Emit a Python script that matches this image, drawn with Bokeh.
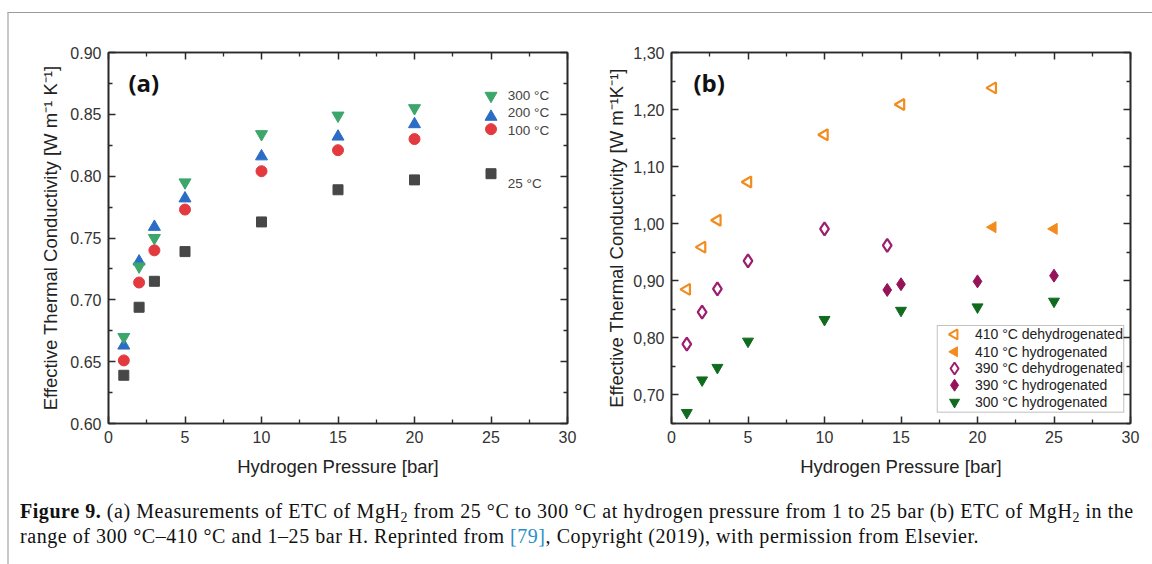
from bokeh.plotting import figure
from bokeh.models import (FixedTicker, LinearAxis, Div, Label, BoxAnnotation,
                          CustomJSTickFormatter)
from bokeh.layouts import row, column
from bokeh.core.properties import value
from bokeh.embed import file_html
from bokeh.resources import INLINE
import math

# ---------------- data: panel (a) ----------------
pressure_a = [1, 2, 3, 5, 10, 15, 20, 25]
etc_300C = [0.670, 0.727, 0.750, 0.795, 0.834, 0.849, 0.855, 0.865]
etc_200C = [0.663, 0.731, 0.759, 0.782, 0.816, 0.832, 0.842, 0.848]
etc_100C = [0.651, 0.714, 0.740, 0.773, 0.804, 0.821, 0.830, 0.838]
etc_25C = [0.639, 0.694, 0.715, 0.739, 0.763, 0.789, 0.797, 0.802]
series_labels_a = ["300 °C", "200 °C", "100 °C", "25 °C"]
series_label_x_a = [26.1, 26.1, 26.1, 26.1]
series_label_y_a = [0.865, 0.8515, 0.837, 0.794]

# ---------------- data: panel (b) ----------------
p410_dehyd = [1, 2, 3, 5, 10, 15, 21]
etc410_dehyd = [0.885, 0.959, 1.006, 1.073, 1.156, 1.209, 1.238]
p410_hyd = [21, 25]
etc410_hyd = [0.994, 0.991]
p390_dehyd = [1, 2, 3, 5, 10, 14.1]
etc390_dehyd = [0.789, 0.845, 0.886, 0.935, 0.991, 0.962]
p390_hyd = [14.1, 15, 20, 25]
etc390_hyd = [0.884, 0.894, 0.899, 0.909]
p300_hyd = [1, 2, 3, 5, 10, 15, 20, 25]
etc300_hyd = [0.669, 0.726, 0.748, 0.794, 0.832, 0.848, 0.854, 0.864]
legend_labels_b = ["410 °C dehydrogenated", "410 °C hydrogenated",
                   "390 °C dehydrogenated", "390 °C hydrogenated",
                   "300 °C hydrogenated"]
# legend placement (data units of panel b)
legend_box_b = dict(left=17.37, right=29.56, top=0.8217, bottom=0.6698)
legend_marker_x_b = 18.5
legend_text_x_b = 19.83
legend_row_y_b = [0.806, 0.7757, 0.7464, 0.7171, 0.6874]

# ticks
x_major = [0, 5, 10, 15, 20, 25, 30]
x_minor = [2.5, 7.5, 12.5, 17.5, 22.5, 27.5]
ya_major = [0.60, 0.65, 0.70, 0.75, 0.80, 0.85, 0.90]
ya_minor = [0.625, 0.675, 0.725, 0.775, 0.825, 0.875]
yb_major = [0.70, 0.80, 0.90, 1.00, 1.10, 1.20, 1.30]
yb_minor = [0.65, 0.75, 0.85, 0.95, 1.05, 1.15, 1.25]

FONT = "Liberation Sans"
AX = "#2a2a2a"


def style_axis(ax, ticker, fmt=None, hide=False):
    ax.ticker = ticker
    ax.major_tick_in = 7
    ax.major_tick_out = 0
    ax.minor_tick_in = 4
    ax.minor_tick_out = 0
    ax.axis_line_color = AX
    ax.axis_line_width = 1.6
    ax.major_tick_line_color = AX
    ax.major_tick_line_width = 1.5
    ax.minor_tick_line_color = AX
    ax.minor_tick_line_width = 1.3
    ax.major_label_text_font = FONT
    ax.major_label_text_font_size = "16px"
    ax.major_label_text_color = "#333333"
    ax.major_label_standoff = 7
    ax.axis_label_text_font = FONT
    ax.axis_label_text_font_size = "18.5px"
    ax.axis_label_text_font_style = "normal"
    ax.axis_label_text_color = "#222222"
    if hide:
        ax.formatter = CustomJSTickFormatter(code="return ''")
    elif fmt is not None:
        ax.formatter = fmt


def make_fig(yr, yticks, yminor, ylabel, border_left, border_right, yfmt, ylab_standoff):
    p = figure(x_range=(0, 30), y_range=yr, frame_width=459, frame_height=371,
               min_border_left=border_left, min_border_right=border_right,
               min_border_top=39, min_border_bottom=60,
               output_backend="svg", toolbar_location=None)
    p.xgrid.visible = False
    p.ygrid.visible = False
    p.outline_line_color = AX
    p.outline_line_width = 1.6
    p.background_fill_color = "white"
    p.border_fill_color = "white"
    xt = FixedTicker(ticks=x_major, minor_ticks=x_minor)
    yt = FixedTicker(ticks=yticks, minor_ticks=yminor)
    style_axis(p.xaxis[0], xt)
    style_axis(p.yaxis[0], yt, fmt=yfmt)
    p.xaxis[0].axis_label = "Hydrogen Pressure [bar]"
    p.xaxis[0].axis_label_standoff = 10
    p.yaxis[0].axis_label = ylabel
    p.yaxis[0].axis_label_standoff = ylab_standoff
    top = LinearAxis()
    right = LinearAxis()
    style_axis(top, FixedTicker(ticks=x_major, minor_ticks=x_minor), hide=True)
    style_axis(right, FixedTicker(ticks=yticks, minor_ticks=yminor), hide=True)
    top.major_label_standoff = 0
    right.major_label_standoff = 0
    p.add_layout(top, "above")
    p.add_layout(right, "right")
    return p


# ---------------- panel (a) ----------------
dot2 = CustomJSTickFormatter(code="return tick.toFixed(2)")
fa = make_fig((0.60, 0.90), ya_major, ya_minor,
              "Effective Thermal Conductivity [W m⁻¹ K⁻¹]", 99, 33, dot2, 6)
fa.scatter(pressure_a, etc_25C, marker="square", size=10, color="#474747")
fa.scatter(pressure_a, etc_100C, marker="circle", size=11, color="#e23a3f")
fa.scatter(pressure_a, etc_200C, marker="triangle", size=12, color="#2b6cc6")
fa.scatter(pressure_a, etc_300C, marker="inverted_triangle", size=12, color="#3da66a")
fa.text(x=series_label_x_a, y=series_label_y_a, text=series_labels_a,
        text_font=value(FONT), text_font_size="13.5px", text_color="#444444",
        text_baseline="middle", text_align="left")
fa.add_layout(Label(x=1.3, y=0.876, text="(a)", text_font="Open Sans",
                    text_font_style="bold", text_font_size="24px",
                    text_baseline="middle", text_color="#111111"))

# ---------------- panel (b) ----------------
comma = CustomJSTickFormatter(code="return tick.toFixed(2).replace('.', ',')")
fb = make_fig((0.65, 1.30), yb_major, yb_minor,
              "Effective Thermal Conductivity [W m⁻¹K⁻¹]", 71, 21, comma, 3)
ORANGE = "#f28c1f"
PURPLE_O = "#9b1f6e"
PURPLE_F = "#961259"
GREEN_D = "#116b1f"
fb.add_layout(BoxAnnotation(left=legend_box_b["left"], right=legend_box_b["right"],
                            top=legend_box_b["top"], bottom=legend_box_b["bottom"],
                            fill_color="white", fill_alpha=1, line_color="#333333",
                            line_width=1, level="underlay"))
fb.scatter(p410_dehyd, etc410_dehyd, marker="triangle", angle=math.pi / 2,
           size=11, line_color=ORANGE, fill_color="white", line_width=2.2)
fb.scatter(p410_hyd, etc410_hyd, marker="triangle", angle=math.pi / 2,
           size=11, color=ORANGE)
fb.scatter(p390_dehyd, etc390_dehyd, marker="diamond", size=13,
           line_color=PURPLE_O, fill_color="white", line_width=2.2)
fb.scatter(p390_hyd, etc390_hyd, marker="diamond", size=13, color=PURPLE_F)
fb.scatter(p300_hyd, etc300_hyd, marker="inverted_triangle", size=11, color=GREEN_D)

# legend entries (b)
lx = [legend_marker_x_b] * 5
ly = legend_row_y_b
fb.scatter(lx[0:1], ly[0:1], marker="triangle", angle=math.pi / 2, size=10,
           line_color=ORANGE, fill_color="white", line_width=2)
fb.scatter(lx[1:2], ly[1:2], marker="triangle", angle=math.pi / 2, size=10, color=ORANGE)
fb.scatter(lx[2:3], ly[2:3], marker="diamond", size=12, line_color=PURPLE_O,
           fill_color="white", line_width=2)
fb.scatter(lx[3:4], ly[3:4], marker="diamond", size=12, color=PURPLE_F)
fb.scatter(lx[4:5], ly[4:5], marker="inverted_triangle", size=10, color=GREEN_D)
fb.text(x=[legend_text_x_b] * 5, y=legend_row_y_b, text=legend_labels_b,
        text_font=value(FONT), text_font_size="14px", text_color="#222222",
        text_baseline="middle", text_align="left")
fb.add_layout(Label(x=1.43, y=1.247, text="(b)", text_font="Open Sans",
                    text_font_style="bold", text_font_size="24px",
                    text_baseline="middle", text_color="#111111"))

SUB = "<span style='font-size:14px;position:relative;top:4px;line-height:0'>2</span>"
caption = Div(
    text=("<div style=\"font-family:'Liberation Serif',serif;font-size:20px;"
          "letter-spacing:0.55px;line-height:25px;color:#111;padding:16px 0 0 11px;"
          "white-space:nowrap;\">"
          "<b>Figure 9.</b> (a) Measurements of ETC of MgH" + SUB + " from 25 °C to 300 °C "
          "at hydrogen pressure from 1 to 25 bar (b) ETC of MgH" + SUB + " in the<br>"
          "range of 300 °C–410 °C and 1–25 bar H. Reprinted from "
          "<span style='color:#2a8fc8'>[79]</span>, Copyright (2019), with permission from Elsevier."
          "</div>"),
    width=1143, height=81, margin=0)

layout = column(row(fa, fb), caption, margin=(12, 0, 0, 7),
                styles={"border-top": "1px solid #9a9a9a",
                        "border-left": "2px solid #c8c8c8",
                        "background": "white"})

open("out.html", "w").write(file_html(layout, INLINE))
